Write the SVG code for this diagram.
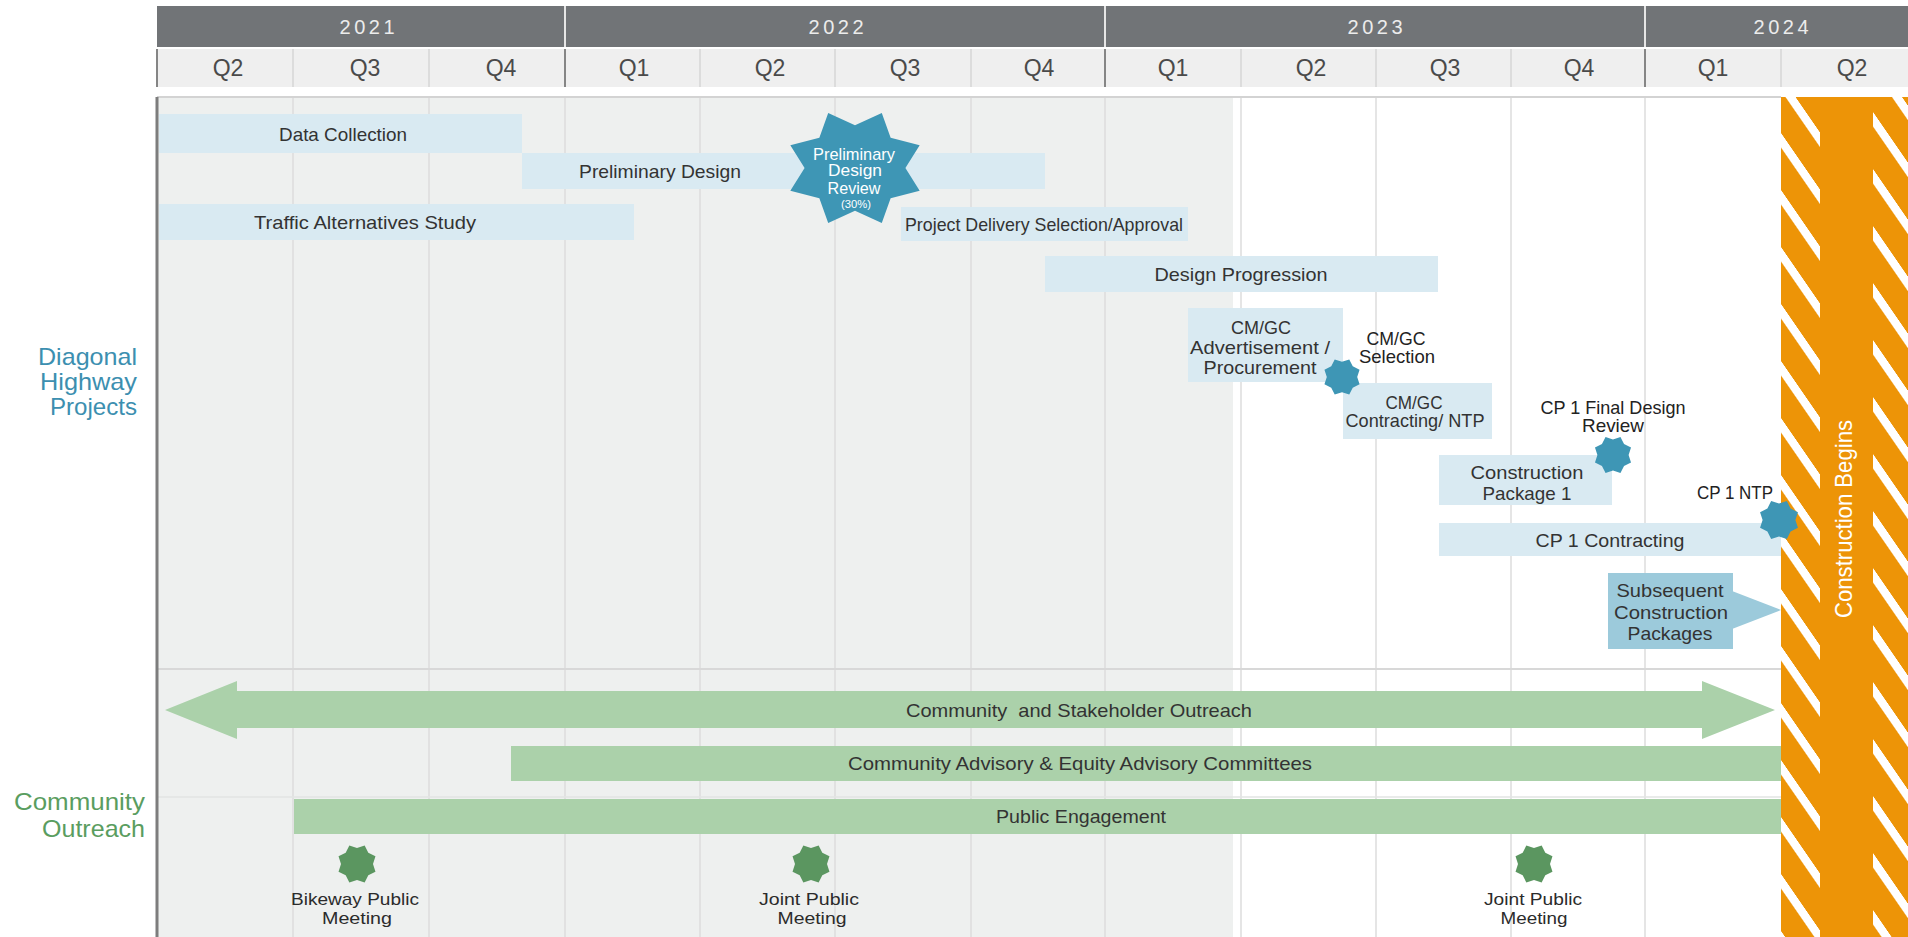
<svg xmlns="http://www.w3.org/2000/svg" xmlns:xlink="http://www.w3.org/1999/xlink" width="1908" height="937" viewBox="0 0 1908 937">
<style>
text{font-family:"Liberation Sans",Arial,sans-serif;}
.yr{font-size:20px;fill:#ececec;text-anchor:middle;}
.q{font-size:23px;fill:#4a4a4a;text-anchor:middle;}
.t{font-size:19px;fill:#333;text-anchor:middle;}
.tk{font-size:19px;fill:#222;text-anchor:middle;}
.tm{font-size:17px;fill:#2b2b2b;text-anchor:middle;}
.tw{font-size:17px;fill:#fff;text-anchor:middle;}
.bar{fill:#d9eaf2;}
.bar2{fill:#9ccadb;}
.gbar{fill:#abd1aa;}
.star{fill:#3e96b5;}
.gstar{fill:#5b9660;}
.grid{stroke:#dcdddd;stroke-width:1.5;}
.lblB{font-size:24px;fill:#3c8fb0;text-anchor:end;}
.lblG{font-size:24px;fill:#5a9d60;text-anchor:end;}
</style>
<defs>
<polygon id="star8" points="0.72,0 0.9239,0.3827 0.5091,0.5091 0.3827,0.9239 0,0.72 -0.3827,0.9239 -0.5091,0.5091 -0.9239,0.3827 -0.72,0 -0.9239,-0.3827 -0.5091,-0.5091 -0.3827,-0.9239 0,-0.72 0.3827,-0.9239 0.5091,-0.5091 0.9239,-0.3827"/>
<polygon id="star8s" points="0.8,0 0.9239,0.3827 0.5657,0.5657 0.3827,0.9239 0,0.8 -0.3827,0.9239 -0.5657,0.5657 -0.9239,0.3827 -0.8,0 -0.9239,-0.3827 -0.5657,-0.5657 -0.3827,-0.9239 0,-0.8 0.3827,-0.9239 0.5657,-0.5657 0.9239,-0.3827"/>
<pattern id="stripesL" patternUnits="userSpaceOnUse" width="100" height="57" patternTransform="translate(1781,133) skewY(55.4)">
<rect x="0" y="0" width="100" height="57" fill="#ed9407"/>
<rect x="0" y="0" width="100" height="14.5" fill="#fff"/>
</pattern>
<pattern id="stripesR" patternUnits="userSpaceOnUse" width="100" height="57" patternTransform="translate(1873,112) skewY(55.4)">
<rect x="0" y="0" width="100" height="57" fill="#ed9407"/>
<rect x="0" y="0" width="100" height="14.5" fill="#fff"/>
</pattern>
</defs>

<rect x="0" y="0" width="1908" height="937" fill="#fff"/>

<g id="header">
<rect x="157" y="6" width="1751" height="41" fill="#717477"/>
<g stroke="#e6e6e6" stroke-width="2">
<line x1="565" y1="6" x2="565" y2="47"/>
<line x1="1105" y1="6" x2="1105" y2="47"/>
<line x1="1645" y1="6" x2="1645" y2="47"/>
</g>
<text class="yr" x="367" y="34" textLength="55" lengthAdjust="spacing">2021</text>
<text class="yr" x="836" y="34" textLength="55" lengthAdjust="spacing">2022</text>
<text class="yr" x="1375" y="34" textLength="55" lengthAdjust="spacing">2023</text>
<text class="yr" x="1781" y="34" textLength="55" lengthAdjust="spacing">2024</text>
<rect x="157" y="49" width="1751" height="38" fill="#efefef"/>
<g stroke="#d6d6d6" stroke-width="1.5">
<line x1="293" y1="49" x2="293" y2="87"/>
<line x1="429" y1="49" x2="429" y2="87"/>
<line x1="700" y1="49" x2="700" y2="87"/>
<line x1="835" y1="49" x2="835" y2="87"/>
<line x1="971" y1="49" x2="971" y2="87"/>
<line x1="1241" y1="49" x2="1241" y2="87"/>
<line x1="1376" y1="49" x2="1376" y2="87"/>
<line x1="1511" y1="49" x2="1511" y2="87"/>
<line x1="1781" y1="49" x2="1781" y2="87"/>
</g>
<g stroke="#858585" stroke-width="2">
<line x1="157" y1="49" x2="157" y2="87"/>
<line x1="565" y1="49" x2="565" y2="87"/>
<line x1="1105" y1="49" x2="1105" y2="87"/>
<line x1="1645" y1="49" x2="1645" y2="87"/>
</g>
<text class="q" x="228" y="76">Q2</text>
<text class="q" x="365" y="76">Q3</text>
<text class="q" x="501" y="76">Q4</text>
<text class="q" x="634" y="76">Q1</text>
<text class="q" x="770" y="76">Q2</text>
<text class="q" x="905" y="76">Q3</text>
<text class="q" x="1039" y="76">Q4</text>
<text class="q" x="1173" y="76">Q1</text>
<text class="q" x="1311" y="76">Q2</text>
<text class="q" x="1445" y="76">Q3</text>
<text class="q" x="1579" y="76">Q4</text>
<text class="q" x="1713" y="76">Q1</text>
<text class="q" x="1852" y="76">Q2</text>
</g>

<g id="chart-area">
<rect x="157" y="97" width="1076" height="840" fill="#eef0ef"/>
<g class="grid">
<line x1="293" y1="97" x2="293" y2="937"/>
<line x1="429" y1="97" x2="429" y2="937"/>
<line x1="565" y1="97" x2="565" y2="937"/>
<line x1="700" y1="97" x2="700" y2="937"/>
<line x1="835" y1="97" x2="835" y2="937"/>
<line x1="971" y1="97" x2="971" y2="937"/>
<line x1="1105" y1="97" x2="1105" y2="937"/>
<line x1="1241" y1="97" x2="1241" y2="937"/>
<line x1="1376" y1="97" x2="1376" y2="937"/>
<line x1="1511" y1="97" x2="1511" y2="937"/>
<line x1="1645" y1="97" x2="1645" y2="937"/>
</g>
<line x1="157" y1="97" x2="1781" y2="97" stroke="#d3d3d3" stroke-width="2"/>
<line x1="157" y1="669" x2="1781" y2="669" stroke="#d8d8d8" stroke-width="2"/>
<line x1="157" y1="797" x2="1781" y2="797" stroke="#e2e4e3" stroke-width="1.5"/>
<line x1="157" y1="97" x2="157" y2="937" stroke="#7d7d7d" stroke-width="3"/>
</g>

<g id="section-labels">
<text class="lblB" x="137" y="365" textLength="99" lengthAdjust="spacingAndGlyphs">Diagonal</text>
<text class="lblB" x="137" y="390" textLength="97" lengthAdjust="spacingAndGlyphs">Highway</text>
<text class="lblB" x="137" y="415" textLength="87" lengthAdjust="spacingAndGlyphs">Projects</text>
<text class="lblG" x="145" y="810" textLength="131" lengthAdjust="spacingAndGlyphs">Community</text>
<text class="lblG" x="145" y="837" textLength="103" lengthAdjust="spacingAndGlyphs">Outreach</text>
</g>

<g id="data-collection">
<rect class="bar" x="159" y="114" width="363" height="39"/>
<text class="t" x="343" y="141" textLength="128" lengthAdjust="spacingAndGlyphs">Data Collection</text>
</g>
<g id="preliminary-design">
<rect class="bar" x="522" y="153" width="523" height="36"/>
<text class="t" x="660" y="178" textLength="162" lengthAdjust="spacingAndGlyphs">Preliminary Design</text>
</g>
<g id="traffic-alternatives">
<rect class="bar" x="159" y="204" width="475" height="36"/>
<text class="t" x="365" y="229" textLength="222" lengthAdjust="spacingAndGlyphs">Traffic Alternatives Study</text>
</g>
<g id="project-delivery">
<rect class="bar" x="901" y="207" width="287" height="34"/>
<text class="t" x="1044" y="231" textLength="278" lengthAdjust="spacingAndGlyphs">Project Delivery Selection/Approval</text>
</g>
<g id="design-progression">
<rect class="bar" x="1045" y="256" width="393" height="36"/>
<text class="t" x="1241" y="281" textLength="173" lengthAdjust="spacingAndGlyphs">Design Progression</text>
</g>
<g id="cmgc-advertisement">
<rect class="bar" x="1188" y="308" width="155" height="74"/>
<text class="t" x="1261" y="334" textLength="60" lengthAdjust="spacingAndGlyphs">CM/GC</text>
<text class="t" x="1260" y="354" textLength="140" lengthAdjust="spacingAndGlyphs">Advertisement /</text>
<text class="t" x="1260" y="374" textLength="113" lengthAdjust="spacingAndGlyphs">Procurement</text>
</g>
<g id="cmgc-contracting">
<rect class="bar" x="1343" y="383" width="149" height="56"/>
<text class="t" x="1414" y="409" textLength="57" lengthAdjust="spacingAndGlyphs">CM/GC</text>
<text class="t" x="1415" y="427" textLength="139" lengthAdjust="spacingAndGlyphs">Contracting/ NTP</text>
</g>
<g id="construction-package-1">
<rect class="bar" x="1439" y="455" width="173" height="50"/>
<text class="t" x="1527" y="479" textLength="113" lengthAdjust="spacingAndGlyphs">Construction</text>
<text class="t" x="1527" y="500" textLength="89" lengthAdjust="spacingAndGlyphs">Package 1</text>
</g>
<g id="cp1-contracting">
<rect class="bar" x="1439" y="523" width="342" height="33"/>
<text class="t" x="1610" y="547" textLength="149" lengthAdjust="spacingAndGlyphs">CP 1 Contracting</text>
</g>
<g id="subsequent-packages">
<rect class="bar2" x="1608" y="573" width="125" height="76"/>
<polygon class="bar2" points="1732,591 1781,610 1732,629"/>
<text class="t" x="1670" y="597" textLength="107" lengthAdjust="spacingAndGlyphs">Subsequent</text>
<text class="t" x="1671" y="619" textLength="114" lengthAdjust="spacingAndGlyphs">Construction</text>
<text class="t" x="1670" y="640" textLength="85" lengthAdjust="spacingAndGlyphs">Packages</text>
</g>

<g id="community-stakeholder-outreach">
<polygon class="gbar" points="165,710 237,681 237,691 1702,691 1702,681 1775,710 1702,739 1702,728 237,728 237,739"/>
<text class="t" x="1079" y="717" textLength="346" lengthAdjust="spacingAndGlyphs" xml:space="preserve">Community  and Stakeholder Outreach</text>
</g>
<g id="advisory-committees">
<rect class="gbar" x="511" y="746" width="1270" height="35"/>
<text class="t" x="1080" y="770" textLength="464" lengthAdjust="spacingAndGlyphs">Community Advisory &amp; Equity Advisory Committees</text>
</g>
<g id="public-engagement">
<rect class="gbar" x="294" y="799" width="1487" height="35"/>
<text class="t" x="1081" y="823" textLength="170" lengthAdjust="spacingAndGlyphs">Public Engagement</text>
</g>

<g id="construction-begins">
<rect x="1781" y="97" width="127" height="840" fill="#ed9407"/>
<rect x="1781" y="97" width="39" height="840" fill="url(#stripesL)"/>
<rect x="1873" y="97" width="35" height="840" fill="url(#stripesR)"/>
<text transform="translate(1852,519) rotate(-90)" x="0" y="0" font-size="24" fill="#fff" text-anchor="middle" textLength="198" lengthAdjust="spacingAndGlyphs">Construction Begins</text>
</g>

<g id="preliminary-design-review">
<use href="#star8" class="star" transform="translate(855,168) scale(70,59.5)"/>
<text class="tw" x="854" y="160" textLength="82" lengthAdjust="spacingAndGlyphs">Preliminary</text>
<text class="tw" x="855" y="176" textLength="54" lengthAdjust="spacingAndGlyphs">Design</text>
<text class="tw" x="854" y="194" textLength="53" lengthAdjust="spacingAndGlyphs">Review</text>
<text x="856" y="208" font-size="10" fill="#fff" text-anchor="middle" textLength="30" lengthAdjust="spacingAndGlyphs">(30%)</text>
</g>
<g id="cmgc-selection">
<use href="#star8s" class="star" transform="translate(1342,377) scale(19)"/>
<text class="tk" x="1396" y="345" textLength="59" lengthAdjust="spacingAndGlyphs">CM/GC</text>
<text class="tk" x="1397" y="363" textLength="76" lengthAdjust="spacingAndGlyphs">Selection</text>
</g>
<g id="cp1-final-design-review">
<use href="#star8s" class="star" transform="translate(1613,455) scale(19.5)"/>
<text class="tk" x="1613" y="414" textLength="145" lengthAdjust="spacingAndGlyphs">CP 1 Final Design</text>
<text class="tk" x="1613" y="432" textLength="62" lengthAdjust="spacingAndGlyphs">Review</text>
</g>
<g id="cp1-ntp">
<use href="#star8s" class="star" transform="translate(1779,520) scale(20.5)"/>
<text class="tk" x="1735" y="499" textLength="76" lengthAdjust="spacingAndGlyphs">CP 1 NTP</text>
</g>

<g id="bikeway-public-meeting">
<use href="#star8s" class="gstar" transform="translate(357,864) scale(20)"/>
<text class="tm" x="355" y="905" textLength="128" lengthAdjust="spacingAndGlyphs">Bikeway Public</text>
<text class="tm" x="357" y="924" textLength="70" lengthAdjust="spacingAndGlyphs">Meeting</text>
</g>
<g id="joint-public-meeting-1">
<use href="#star8s" class="gstar" transform="translate(811,864) scale(20)"/>
<text class="tm" x="809" y="905" textLength="100" lengthAdjust="spacingAndGlyphs">Joint Public</text>
<text class="tm" x="812" y="924" textLength="69" lengthAdjust="spacingAndGlyphs">Meeting</text>
</g>
<g id="joint-public-meeting-2">
<use href="#star8s" class="gstar" transform="translate(1534,864) scale(20)"/>
<text class="tm" x="1533" y="905" textLength="98" lengthAdjust="spacingAndGlyphs">Joint Public</text>
<text class="tm" x="1534" y="924" textLength="67" lengthAdjust="spacingAndGlyphs">Meeting</text>
</g>

<g id="connectors"></g>
</svg>
